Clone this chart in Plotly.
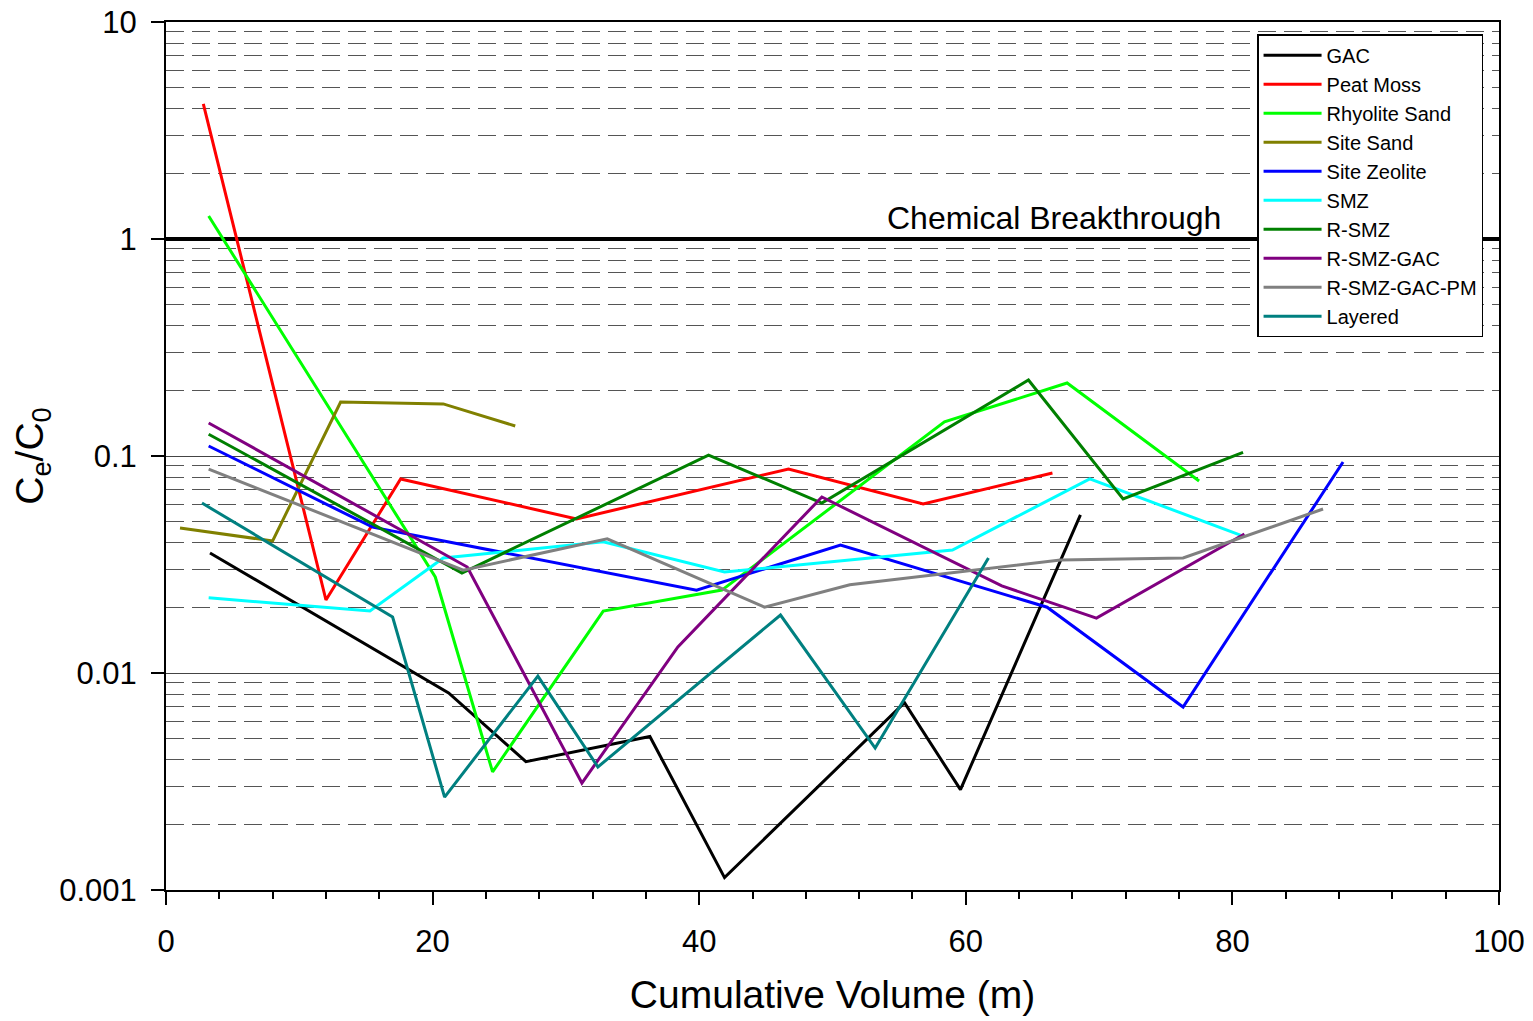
import plotly.graph_objects as go

# Cumulative volume (m) and Ce/C0 for each media
gac_x = [3.3, 21.2, 27.0, 36.3, 41.9, 55.4, 59.6, 68.6]
gac_y = [0.0357, 0.0081, 0.0039, 0.0051, 0.00114, 0.0073, 0.0029, 0.0535]

peat_x = [2.8, 12.0, 17.6, 30.8, 46.7, 56.8, 66.5]
peat_y = [4.19, 0.0217, 0.0784, 0.0513, 0.0871, 0.0601, 0.0835]

rhyolite_x = [3.2, 20.2, 24.5, 32.8, 41.7, 58.4, 67.6, 77.5]
rhyolite_y = [1.276, 0.0277, 0.0035, 0.0193, 0.0241, 0.1436, 0.217, 0.0767]

site_sand_x = [1.05, 8.0, 13.1, 17.0, 20.8, 26.2]
site_sand_y = [0.0466, 0.0406, 0.1774, 0.176, 0.1738, 0.1375]

zeolite_x = [3.2, 15.5, 39.8, 50.6, 66.1, 76.3, 88.3]
zeolite_y = [0.1112, 0.047, 0.0241, 0.0389, 0.0201, 0.00697, 0.0938]

smz_x = [3.2, 15.3, 20.8, 32.8, 41.9, 59.0, 69.3, 80.6]
smz_y = [0.0222, 0.0193, 0.0339, 0.0402, 0.0292, 0.0369, 0.0784, 0.0432]

rsmz_x = [3.2, 22.2, 40.7, 49.2, 64.7, 71.8, 80.8]
rsmz_y = [0.126, 0.0289, 0.101, 0.0607, 0.224, 0.0634, 0.104]

rsmz_gac_x = [3.2, 22.6, 31.2, 38.4, 49.2, 62.7, 69.8, 80.9]
rsmz_gac_y = [0.142, 0.0308, 0.00311, 0.0132, 0.0647, 0.0252, 0.0179, 0.0437]

rsmz_gac_pm_x = [3.2, 22.3, 33.1, 44.9, 51.3, 67.1, 76.3, 86.8]
rsmz_gac_pm_y = [0.0871, 0.0298, 0.0415, 0.0201, 0.0255, 0.0332, 0.0339, 0.057]

layered_x = [2.7, 17.0, 20.9, 27.9, 32.4, 46.1, 53.2, 61.7]
layered_y = [0.0607, 0.0181, 0.00268, 0.00968, 0.00369, 0.0185, 0.00451, 0.0339]

y_ticks = [0.001, 0.01, 0.1, 1, 10]
y_tick_text = ['0.001', '0.01', '0.1', '1', '10']
breakthrough = 1

series = [
    ('GAC', gac_x, gac_y, '#000000'),
    ('Peat Moss', peat_x, peat_y, '#FF0000'),
    ('Rhyolite Sand', rhyolite_x, rhyolite_y, '#00FF00'),
    ('Site Sand', site_sand_x, site_sand_y, '#808000'),
    ('Site Zeolite', zeolite_x, zeolite_y, '#0000FF'),
    ('SMZ', smz_x, smz_y, '#00FFFF'),
    ('R-SMZ', rsmz_x, rsmz_y, '#008000'),
    ('R-SMZ-GAC', rsmz_gac_x, rsmz_gac_y, '#800080'),
    ('R-SMZ-GAC-PM', rsmz_gac_pm_x, rsmz_gac_pm_y, '#808080'),
    ('Layered', layered_x, layered_y, '#008080'),
]

fig = go.Figure()

# breakthrough reference line (Ce/C0 = 1)
fig.add_trace(go.Scatter(x=[0, 100], y=[breakthrough, breakthrough], mode='lines',
                         line=dict(color='black', width=4), showlegend=False, hoverinfo='skip'))

for name, xs, ys, color in series:
    fig.add_trace(go.Scatter(x=xs, y=ys, mode='lines', name=name,
                             line=dict(color=color, width=3)))

fig.add_annotation(x=66.6, y=0, text='Chemical Breakthrough', showarrow=False,
                   yanchor='bottom', yshift=1, font=dict(size=32, color='black'))

minor_vals = [m * 10 ** e for e in range(-3, 1) for m in range(2, 10)]

fig.update_layout(
    width=1533, height=1021,
    margin=dict(l=166, r=34, t=22, b=131),
    paper_bgcolor='white', plot_bgcolor='white',
    font=dict(family='Liberation Sans, Arial, sans-serif', color='black'),
    legend=dict(x=0.8185, y=0.986, xanchor='left', yanchor='top',
                bgcolor='white', bordercolor='black', borderwidth=1.5,
                font=dict(size=20), tracegroupgap=0, itemwidth=58),
    xaxis=dict(
        range=[0, 100], dtick=20, showgrid=False, zeroline=False, automargin=False,
        showline=True, linecolor='black', linewidth=2, mirror=True,
        ticks='outside', ticklen=13, tickwidth=2, tickcolor='black',
        minor=dict(dtick=4, ticks='outside', ticklen=7, tickwidth=2, tickcolor='black'),
        tickfont=dict(size=31), ticklabelstandoff=10, ticklabeloverflow='allow',
        title=dict(text='Cumulative Volume (m)', font=dict(size=39), standoff=22),
    ),
    yaxis=dict(
        type='log', range=[-3, 1], tickmode='array', tickvals=y_ticks, ticktext=y_tick_text,
        showgrid=True, gridcolor='#444444', gridwidth=1, zeroline=False, automargin=False,
        showline=True, linecolor='black', linewidth=2, mirror=True,
        ticks='outside', ticklen=13, tickwidth=2, tickcolor='black',
        minor=dict(tickmode='array', tickvals=minor_vals, showgrid=True,
                   gridcolor='#555555', gridwidth=1.3, griddash='18px,8px', ticks=''),
        tickfont=dict(size=31), ticklabelstandoff=8, ticklabeloverflow='allow',
        title=dict(text='C<sub>e</sub>/C<sub>0</sub>', font=dict(size=39), standoff=4),
    ),
)

# drop the page's default body margin so the figure fills the window
fig.write_html('out.html', config={'displayModeBar': False},
               post_script="document.body.style.margin='0';")
